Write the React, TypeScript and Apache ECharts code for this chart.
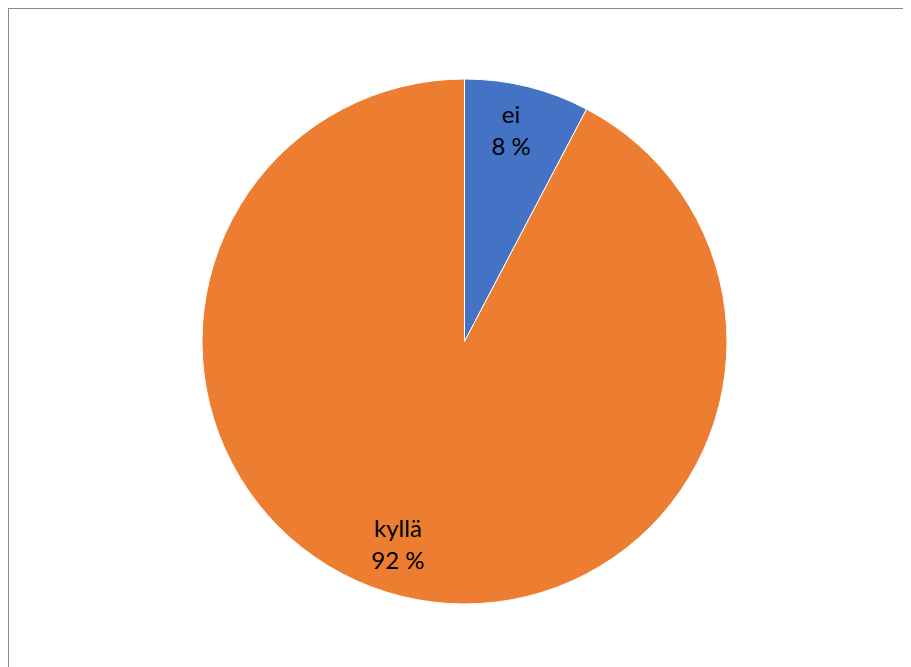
import React, { useEffect, useRef } from "react";
import * as echarts from "echarts";

const categories = ["ei", "kyllä"];
const values = [7.7, 92.3];
const colors = ["#4472C4", "#ED7D31"];

export default function App() {
  const ref = useRef<HTMLDivElement>(null);
  useEffect(() => {
    if (!ref.current) return;
    document.documentElement.style.overflow = "hidden";
    document.body.style.overflow = "hidden";
    const chart = echarts.init(ref.current, null, { renderer: "svg" });
    const center = [455.5, 332.5];
    const pieData = categories.map((name, i) => ({
      name,
      value: values[i],
      itemStyle: { color: colors[i] },
    }));
    const labelData = categories.map((name, i) => ({
      name,
      value: values[i],
      label: i === 1 ? { offset: [-15, -7] } : { offset: [-5, -3] },
    }));
    chart.setOption({
      animation: false,
      series: [
        {
          type: "pie",
          center,
          radius: [0, 262.5],
          startAngle: 90,
          clockwise: true,
          silent: true,
          label: { show: false },
          labelLine: { show: false },
          itemStyle: { borderColor: "#ffffff", borderWidth: 1 },
          data: pieData,
        },
        {
          type: "pie",
          center,
          radius: [162, 262.5],
          startAngle: 90,
          clockwise: true,
          silent: true,
          percentPrecision: 0,
          itemStyle: { color: "rgba(0,0,0,0)" },
          labelLine: { show: false },
          label: {
            show: true,
            position: "inside",
            formatter: "{b}\n{d} %",
            fontFamily: "Lato",
            fontSize: 24,
            lineHeight: 32,
            color: "#000000",
          },
          data: labelData,
        },
      ],
    });
    return () => chart.dispose();
  }, []);
  return (
    <div
      style={{
        width: 920,
        height: 680,
        borderTop: "1px solid #8a8a8a",
        borderLeft: "1px solid #8a8a8a",
        boxSizing: "border-box",
        background: "#fff",
      }}
    >
      <div ref={ref} style={{ width: 902, height: 658 }} />
    </div>
  );
}
